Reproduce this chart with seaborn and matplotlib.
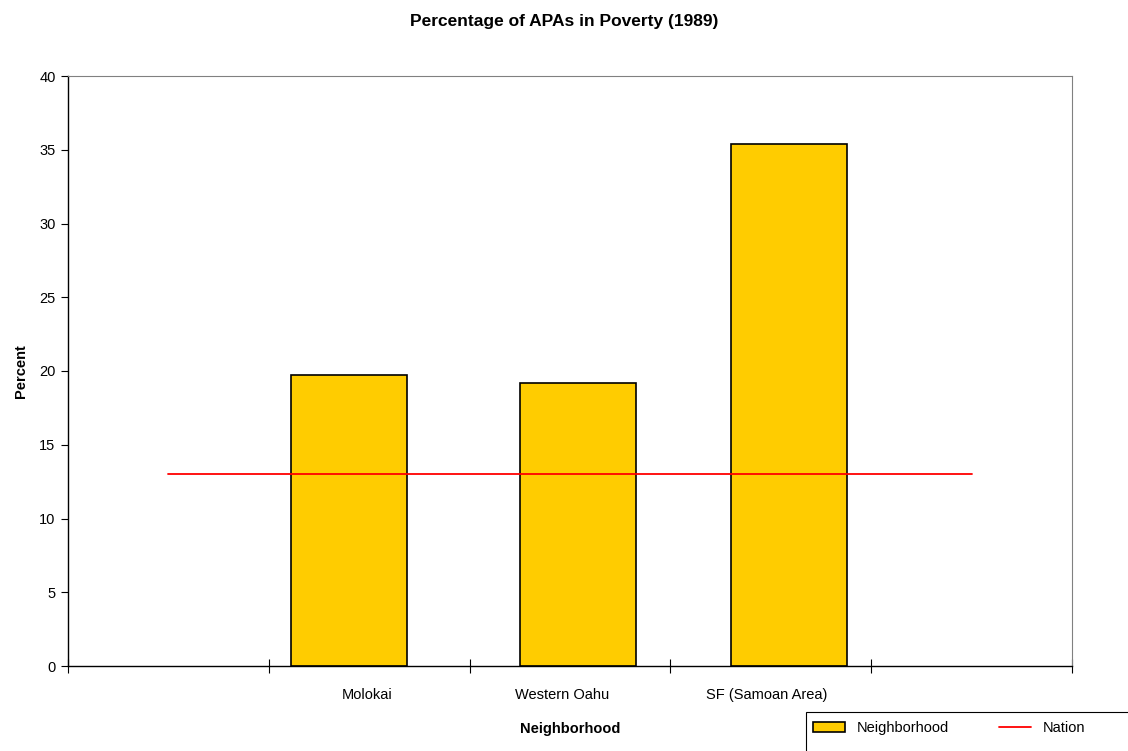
import seaborn as sns
import pandas as pd
import numpy as np
import matplotlib.pyplot as plt
from matplotlib.patches import Patch, Rectangle
from matplotlib.lines import Line2D

sns.set_style("white")
plt.rcParams['font.family'] = ['Liberation Sans', 'DejaVu Sans']
plt.rcParams['text.color'] = 'black'
plt.rcParams['axes.labelcolor'] = 'black'
plt.rcParams['xtick.color'] = 'black'
plt.rcParams['ytick.color'] = 'black'

# data
neighborhoods = ["Molokai", "Western Oahu", "SF (Samoan Area)"]
percent = [19.7, 19.2, 35.4]
bar_pos = [1.40, 2.54, 3.59]      # where each bar sits on the category axis
label_pos = [1.49, 2.46, 3.48]
nation_x = [0.5, 4.5]
nation_pct = [13.0, 13.0]

df = pd.DataFrame({"pos": bar_pos, "percent": percent, "name": neighborhoods})
nation = pd.DataFrame({"x": nation_x, "y": nation_pct})

fig = plt.figure(figsize=(11.28, 7.51), dpi=100)
ax = fig.add_axes([68 / 1128, 85 / 751, 1004 / 1128, 590 / 751])

sns.barplot(data=df, x="pos", y="percent", native_scale=True, width=0.55,
            color="#FFCC00", saturation=1, edgecolor="black", linewidth=1.2, ax=ax)
sns.lineplot(data=nation, x="x", y="y", color="#FF0000", linewidth=1.3, ax=ax)

ax.set_xlim(0, 5)
ax.set_ylim(0, 40)
ax.set_yticks(np.arange(0, 41, 5))
ax.set_xticks(np.arange(0, 6))
ax.set_xticklabels([])
ax.set_xticks(label_pos, minor=True)
ax.set_xticklabels(neighborhoods, minor=True, fontsize=10.5)
ax.tick_params(axis="x", which="minor", length=0, pad=16)
ax.tick_params(axis="x", which="major", direction="inout", length=10, width=0.8)
ax.tick_params(axis="y", direction="out", length=5, width=0.8, labelsize=10.5, pad=4)
ax.tick_params(left=True, bottom=True)

for s in ["left", "bottom"]:
    ax.spines[s].set_color("black")
    ax.spines[s].set_linewidth(1.0)
for s in ["top", "right"]:
    ax.spines[s].set_color("#808080")
    ax.spines[s].set_linewidth(0.8)

ax.set_xlabel("Neighborhood", fontsize=10.5, fontweight="bold", labelpad=14)
ax.set_ylabel("Percent", fontsize=10.5, fontweight="bold", labelpad=8)
fig.suptitle("Percentage of APAs in Poverty (1989)", fontsize=12.5, fontweight="bold", y=0.981)

# legend box runs off the bottom/right edge of the image in the reference
fig.patches.append(Rectangle((806 / 1128, -0.05), 0.4, 0.05 + (751 - 712) / 751,
                             transform=fig.transFigure, facecolor="white",
                             edgecolor="black", linewidth=0.8))
handles = [Patch(facecolor="#FFCC00", edgecolor="black", linewidth=1.2, label="Neighborhood"),
           Line2D([0], [0], color="#FF0000", linewidth=1.3, label="Nation")]
leg = fig.legend(handles=handles, loc="upper left", bbox_to_anchor=(806 / 1128, 1 - 714 / 751),
                 ncol=2, frameon=False, fontsize=10.5, columnspacing=3.4,
                 handlelength=2.2, borderpad=0.5, borderaxespad=0)

fig.savefig("out.png", dpi=100)
